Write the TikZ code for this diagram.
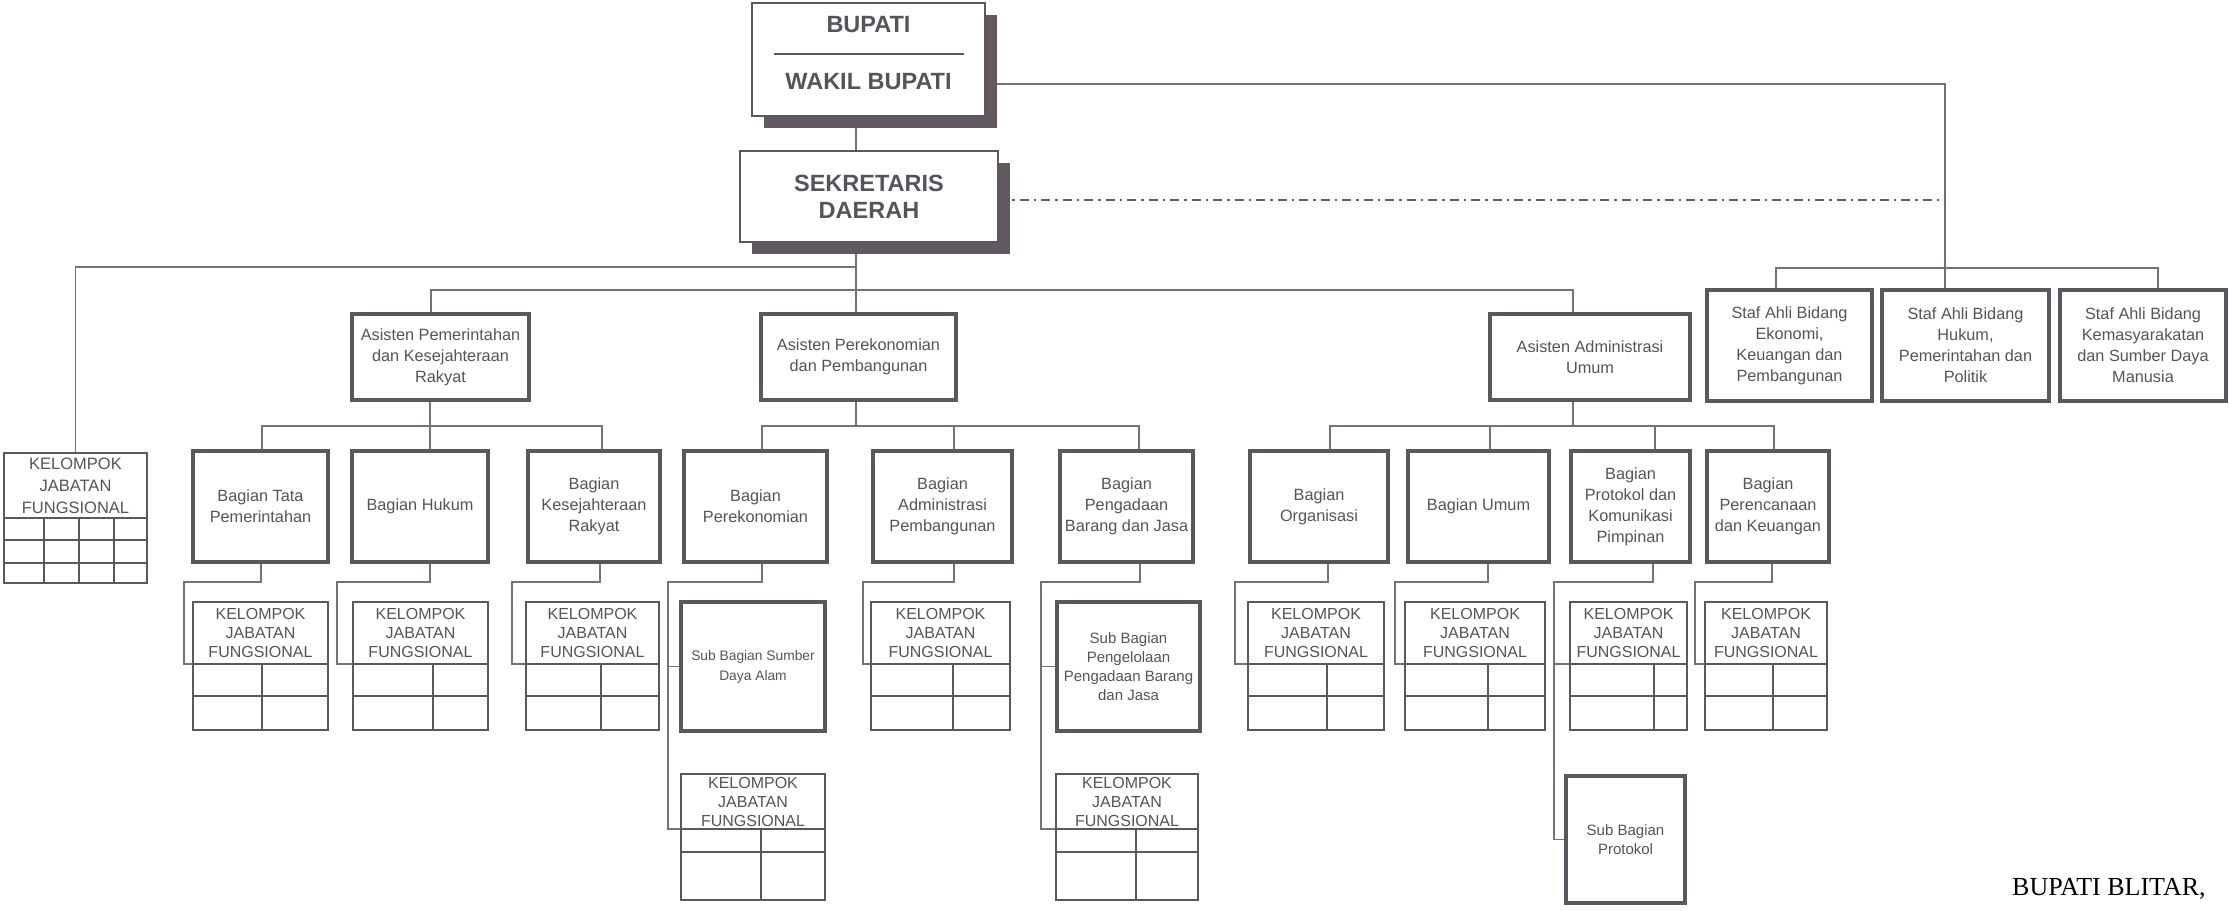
\documentclass[tikz,border=0pt]{standalone}
\usepackage{fontspec}
\setmainfont{Liberation Sans}
\newfontfamily\serifface{Liberation Serif}
\usetikzlibrary{shadows,backgrounds}
\definecolor{boxc}{HTML}{5A585E}
\definecolor{linec}{HTML}{76707A}
\definecolor{txtc}{HTML}{56535B}
\definecolor{shadc}{HTML}{625860}
\definecolor{dashc}{HTML}{6C5866}
\newcommand\smallf{\fontsize{16.3}{21}\selectfont}
\newcommand\kjff{\fontsize{16}{19}\selectfont}
\newcommand\kjfbig{\fontsize{16.5}{22}\selectfont}
\newcommand\ttlf{\fontsize{23.5}{27}\selectfont\bfseries}
\newcommand\subf{\fontsize{15}{19}\selectfont}
\newcommand\sdaf{\fontsize{13.8}{20}\selectfont}
\newcommand\kjfbox[8]{%
  \node[kh, minimum width={(#3-#2)*1pt}, minimum height={(#5-#4)*1pt}] (#1) at ({(#2+#3)/2},{(#4+#5)/2}) {KELOMPOK\\JABATAN\\FUNGSIONAL};
  \draw[gb] (#2,#5) -- (#2,#7) -- (#3,#7) -- (#3,#5);
  \draw[gl] (#2,#6) -- (#3,#6) (#8,#5) -- (#8,#7);
}
\tikzset{
  bx/.style={draw=boxc, line width=3.2pt, fill=white, align=center, text=txtc, font=\smallf, inner sep=1pt, outer sep=0pt},
  kh/.style={draw=boxc, line width=2.6pt, fill=white, align=center, text=txtc, font=\kjff, inner sep=0pt, outer sep=0pt},
  gb/.style={draw=boxc, line width=2.6pt},
  gl/.style={draw=boxc, line width=1.8pt},
  cn/.style={draw=linec, line width=1.8pt},
  dd/.style={draw=dashc, line width=2pt, dash pattern=on 9pt off 5pt on 2.5pt off 5pt},
  ttl/.style={draw=boxc, line width=2.4pt, fill=white, align=center, text=txtc, font=\ttlf, inner sep=1pt, outer sep=0pt,
    drop shadow={shadow xshift=12pt, shadow yshift=-12pt, opacity=1, fill=shadc}},
  ttltxt/.style={text=txtc, font=\ttlf, inner sep=0pt},
}
\begin{document}
\begin{tikzpicture}[x=1pt, y=-1pt]
\useasboundingbox (0,0) rectangle (2229,910);

% top level
\node[ttl, minimum width=233pt, minimum height=113pt] (bupati) at (868.5,59.5) {};
\node[ttltxt] (buptxt) at (868.5,25) {BUPATI};
\node[ttltxt] (waktxt) at (868.5,82) {WAKIL BUPATI};
\draw[draw=boxc, line width=1.6pt] (774,54) -- (964,54);
\node[ttl, minimum width=258pt, minimum height=91pt] (sekda) at (869,196.5) {SEKRETARIS\\DAERAH};

% kelompok jabatan fungsional (left)
\node[kh, font=\kjfbig, minimum width=143pt, minimum height=65pt] (kjf0) at (75.5,485.5) {KELOMPOK\\JABATAN\\FUNGSIONAL};
\draw[gb] (4,518) -- (4,583) -- (147,583) -- (147,518);
\draw[gl] (4,540) -- (147,540) (4,563) -- (147,563)
          (44,518) -- (44,583) (79,518) -- (79,583) (114,518) -- (114,583);

% asisten
\node[bx, minimum width=177pt, minimum height=86pt] (ap) at (440.5,357) {Asisten Pemerintahan\\dan Kesejahteraan\\Rakyat};
\node[bx, minimum width=195pt, minimum height=86pt] (apr) at (858.5,357) {Asisten Perekonomian\\dan Pembangunan};
\node[bx, minimum width=200pt, minimum height=86pt] (aa) at (1590,357) {Asisten Administrasi\\Umum};

% staf ahli
\node[bx, minimum width=165pt, minimum height=111pt] (sa1) at (1789.5,345.5) {Staf Ahli Bidang\\Ekonomi,\\Keuangan dan\\Pembangunan};
\node[bx, minimum width=167pt, minimum height=111pt] (sa2) at (1965.5,345.5) {Staf Ahli Bidang\\Hukum,\\Pemerintahan dan\\Politik};
\node[bx, minimum width=166pt, minimum height=111pt] (sa3) at (2143,345.5) {Staf Ahli Bidang\\Kemasyarakatan\\dan Sumber Daya\\Manusia};

% bagian
\node[bx, minimum width=135pt, minimum height=111pt] (b1) at (260.5,506.5) {Bagian Tata\\Pemerintahan};
\node[bx, minimum width=136pt, minimum height=111pt] (b2) at (420,506.5) {Bagian Hukum};
\node[bx, minimum width=132pt, minimum height=111pt] (b3) at (594,506.5) {Bagian\\Kesejahteraan\\Rakyat};
\node[bx, minimum width=143pt, minimum height=111pt] (b4) at (755.5,506.5) {Bagian\\Perekonomian};
\node[bx, minimum width=139pt, minimum height=111pt] (b5) at (942.5,506.5) {Bagian\\Administrasi\\Pembangunan};
\node[bx, minimum width=133pt, minimum height=111pt] (b6) at (1126.5,506.5) {Bagian\\Pengadaan\\Barang dan Jasa};
\node[bx, minimum width=138pt, minimum height=111pt] (b7) at (1319,506.5) {Bagian\\Organisasi};
\node[bx, minimum width=141pt, minimum height=111pt] (b8) at (1478.5,506.5) {Bagian Umum};
\node[bx, minimum width=119pt, minimum height=111pt] (b9) at (1630.5,506.5) {Bagian\\Protokol dan\\Komunikasi\\Pimpinan};
\node[bx, minimum width=122pt, minimum height=111pt] (b10) at (1768,506.5) {Bagian\\Perencanaan\\dan Keuangan};

% sub bagian
\node[bx, font=\sdaf, minimum width=144pt, minimum height=129pt] (sda) at (753,666.5) {Sub Bagian Sumber\\Daya Alam};
\node[bx, font=\subf, minimum width=143pt, minimum height=129pt] (pengel) at (1128.5,666.5) {Sub Bagian\\Pengelolaan\\Pengadaan Barang\\dan Jasa};
\node[bx, font=\subf, minimum width=119pt, minimum height=127pt] (subprot) at (1625.5,839.5) {Sub Bagian\\Protokol};

% kelompok jabatan fungsional tables
\kjfbox{k1}{193}{328}{602}{664}{696}{730}{262}
\kjfbox{k2}{353}{488}{602}{664}{696}{730}{433}
\kjfbox{k3}{526}{659}{602}{664}{696}{730}{601}
\kjfbox{k4}{871}{1010}{602}{664}{696}{730}{953}
\kjfbox{k5}{1248}{1384}{602}{664}{696}{730}{1327}
\kjfbox{k6}{1405}{1545}{602}{664}{696}{730}{1488}
\kjfbox{k7}{1570}{1687}{602}{664}{696}{730}{1654}
\kjfbox{k8}{1705}{1827}{602}{664}{696}{730}{1773}
\kjfbox{k9}{681}{825}{774}{829}{852}{900}{761}
\kjfbox{k10}{1056}{1198}{774}{829}{852}{900}{1136}

% signature
\node[font=\serifface\fontsize{26}{30}\selectfont, text=black, anchor=base west, inner sep=0pt] (sign) at (2012,895) {BUPATI BLITAR,};

% junction coordinates
\coordinate (busA) at (856,267);
\coordinate (bBl) at (431,290);
\coordinate (bBr) at (1573,290);
\coordinate (sbL) at (1776,268);
\coordinate (sbR) at (2158,268);
\coordinate (ddend) at (1945,200);
\coordinate (cL) at (262,426);
\coordinate (cR) at (602,426);
\coordinate (dL) at (762,426);
\coordinate (dM) at (856,426);
\coordinate (dR) at (1139,426);
\coordinate (d5) at (954,426);
\coordinate (eL) at (1330,426);
\coordinate (eM) at (1573,426);
\coordinate (eR) at (1774,426);
\coordinate (e2) at (1490,426);
\coordinate (e3) at (1655,426);
\coordinate (t1) at (184,582);
\coordinate (t2) at (337,582);
\coordinate (t3) at (512,582);
\coordinate (t4) at (668,582);
\coordinate (t5) at (863,582);
\coordinate (t6) at (1041,582);
\coordinate (t7) at (1235,582);
\coordinate (t8) at (1395,582);
\coordinate (t9) at (1554,582);
\coordinate (t10) at (1695,582);

\begin{scope}[on background layer]
  \fill[white] (0,0) rectangle (2229,910);
  \draw[cn] ([xshift=-12.5pt]bupati.south) -- ([xshift=-13pt]sekda.north);
  \draw[cn] ([yshift=-24.5pt]bupati.east) -| ([xshift=-20.5pt]sa2.north);
  \draw[dd] (sekda.east |- ddend) -- (ddend);
  \draw[cn] ([xshift=-13pt]sekda.south) -- ([xshift=-2.5pt]apr.north);
  \draw[cn] (kjf0.north) |- (busA);
  \draw[cn] ([xshift=-9.5pt]ap.north) -- (bBl) -- (bBr) -- ([xshift=-17pt]aa.north);
  \draw[cn] ([xshift=-13.5pt]sa1.north) -- (sbL) -- (sbR) -- ([xshift=15pt]sa3.north);
  % asisten pemerintahan
  \draw[cn] ([xshift=-10.5pt]ap.south) -- ([xshift=10pt]b2.north);
  \draw[cn] ([xshift=1.5pt]b1.north) -- (cL) -- (cR) -- ([xshift=8pt]b3.north);
  % asisten perekonomian
  \draw[cn] ([xshift=-2.5pt]apr.south) -- (dM);
  \draw[cn] ([xshift=6.5pt]b4.north) -- (dL) -- (dR) -- ([xshift=12.5pt]b6.north);
  \draw[cn] (d5) -- ([xshift=11.5pt]b5.north);
  % asisten administrasi umum
  \draw[cn] ([xshift=-17pt]aa.south) -- (eM);
  \draw[cn] ([xshift=11pt]b7.north) -- (eL) -- (eR) -- ([xshift=6pt]b10.north);
  \draw[cn] (e2) -- ([xshift=11.5pt]b8.north);
  \draw[cn] (e3) -- ([xshift=24.5pt]b9.north);
  % bagian to kelompok / sub bagian
  \draw[cn] ([xshift=.5pt]b1.south) |- (t1) |- (k1.south west);
  \draw[cn] ([xshift=10pt]b2.south) |- (t2) |- (k2.south west);
  \draw[cn] ([xshift=6pt]b3.south) |- (t3) |- (k3.south west);
  \draw[cn] ([xshift=6.5pt]b4.south) |- (t4) |- (k9.south west);
  \draw[cn] (sda.west -| t4) -- (sda.west);
  \draw[cn] ([xshift=11.5pt]b5.south) |- (t5) |- (k4.south west);
  \draw[cn] ([xshift=13.5pt]b6.south) |- (t6) |- (k10.south west);
  \draw[cn] (pengel.west -| t6) -- (pengel.west);
  \draw[cn] ([xshift=9pt]b7.south) |- (t7) |- (k5.south west);
  \draw[cn] ([xshift=9.5pt]b8.south) |- (t8) |- (k6.south west);
  \draw[cn] ([xshift=22.5pt]b9.south) |- (t9) |- (subprot.west);
  \draw[cn] (k7.south west -| t9) -- (k7.south west);
  \draw[cn] ([xshift=4pt]b10.south) |- (t10) |- (k8.south west);
\end{scope}
\end{tikzpicture}
\end{document}
